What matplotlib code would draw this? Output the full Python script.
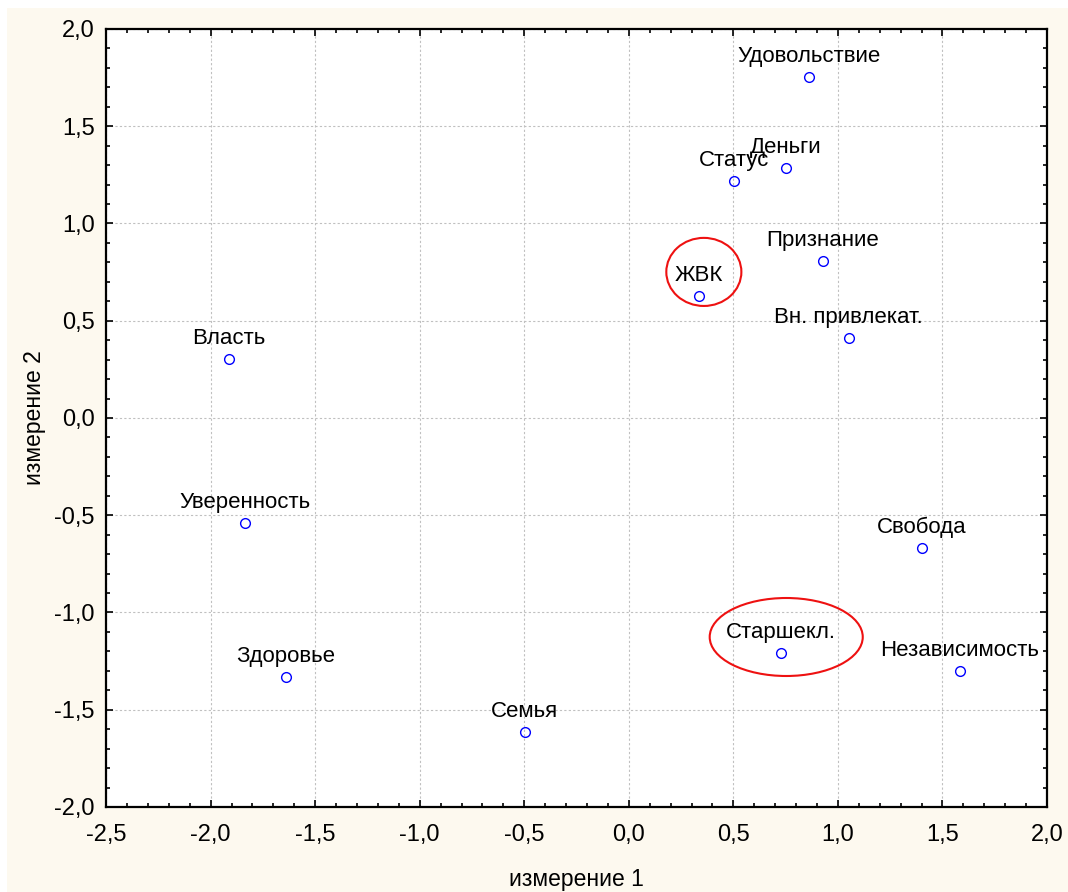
import matplotlib
matplotlib.use("Agg")
import matplotlib.pyplot as plt
from matplotlib.patches import Ellipse, Rectangle
from matplotlib.ticker import MultipleLocator, FuncFormatter

plt.rcParams['font.family'] = ['Liberation Sans', 'DejaVu Sans']

# точки: измерение 1, измерение 2
names = ['Удовольствие', 'Деньги', 'Статус', 'Признание', 'ЖВК', 'Вн. привлекат.',
         'Власть', 'Уверенность', 'Свобода', 'Старшекл.', 'Независимость',
         'Здоровье', 'Семья']
dim1 = [0.861, 0.751, 0.502, 0.928, 0.335, 1.052, -1.913, -1.836, 1.401, 0.727, 1.583, -1.640, -0.497]
dim2 = [1.753, 1.285, 1.219, 0.807, 0.627, 0.411, 0.303, -0.540, -0.668, -1.208, -1.301, -1.332, -1.614]

# выделенные группы (центр x, центр y, ширина, высота)
ellipses = [(0.359, 0.751, 0.359, 0.350),
            (0.753, -1.126, 0.732, 0.401)]

fig = plt.figure(figsize=(10.68, 8.92), dpi=100, facecolor='white')
fig.patches.append(Rectangle((7 / 1068, 0), 1, 1 - 8 / 892, transform=fig.transFigure,
                             facecolor='#fdf9ef', edgecolor='none', zorder=-10))
ax = fig.add_axes([0.0993, 0.0953, 0.881, 0.8722])
ax.set_facecolor('white')

ax.plot(dim1, dim2, 'o', mfc='none', mec='#0000ff', ms=7, mew=1.0, zorder=3)
for n, x, y in zip(names, dim1, dim2):
    ax.annotate(n, (x, y), xytext=(0, 14.5), textcoords='offset points',
                ha='center', va='center', fontsize=16)

for cx, cy, w, h in ellipses:
    ax.add_patch(Ellipse((cx, cy), w, h, fill=False, edgecolor='#ee1111', lw=1.5, zorder=4))

ax.set_xlim(-2.5, 2.0)
ax.set_ylim(-2.0, 2.0)
ax.xaxis.set_major_locator(MultipleLocator(0.5))
ax.yaxis.set_major_locator(MultipleLocator(0.5))
ax.xaxis.set_minor_locator(MultipleLocator(0.1))
ax.yaxis.set_minor_locator(MultipleLocator(0.1))
fmt = FuncFormatter(lambda v, p: ('%.1f' % v).replace('.', ','))
ax.xaxis.set_major_formatter(fmt)
ax.yaxis.set_major_formatter(fmt)

ax.tick_params(which='both', direction='in', top=True, right=True, labelsize=17, width=1.2)
ax.tick_params(which='major', length=5)
ax.tick_params(which='minor', length=3)
ax.tick_params(axis='y', pad=8)
ax.tick_params(axis='x', pad=12)
ax.grid(True, which='major', color='#c0c0c0', linestyle=(0, (2, 2)), linewidth=0.8)
for s in ax.spines.values():
    s.set_linewidth(1.6)

ax.set_xlabel('измерение 1', fontsize=16.5, labelpad=16)
ax.set_ylabel('измерение 2', fontsize=16.5, labelpad=6)

fig.savefig('out.png', dpi=100, facecolor=fig.get_facecolor())
